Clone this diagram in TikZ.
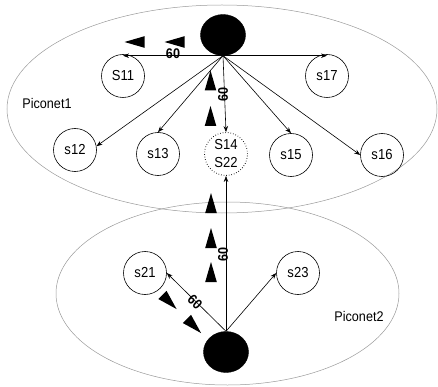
\documentclass[tikz,border=0pt]{standalone}
\usepackage{fontspec}
\setmainfont{Liberation Sans}[FakeStretch=0.9]
\usetikzlibrary{shapes.geometric,arrows.meta}

\tikzset{
  net/.style={draw=black!40, line width=0.5pt},
  master/.style={ellipse, fill=black, draw=black, minimum width=45pt, minimum height=41pt, inner sep=0pt},
  slave/.style={circle, draw=black, line width=0.6pt, minimum size=43pt, inner sep=0pt,
                font=\fontsize{14.5}{16}\selectfont},
  shared/.style={slave, dotted, line width=0.9pt, align=center,
                 font=\fontsize{14.5}{18}\selectfont},
  link/.style={draw=black, line width=0.6pt, -{Stealth[length=6pt,width=4.5pt]}},
  rate/.style={font=\fontsize{14}{15}\selectfont\bfseries, inner sep=0pt},
  netname/.style={font=\fontsize{14}{16}\selectfont, inner sep=0pt},
  flowtip/.pic={\fill[black] (10,0) -- (-10,5.8) -- (-10,-5.8) -- cycle;}
}

\begin{document}
\begin{tikzpicture}[x=1pt, y=-1pt]
\useasboundingbox (0,0) rectangle (438,387);

% the two piconet areas
\draw[net] (222,109) ellipse [x radius=215, y radius=104];
\draw[net] (227.5,293.5) ellipse [x radius=171.5, y radius=91.5];
\node[netname] (p1) at (47,103) {Piconet1};
\node[netname] (p2) at (359,316) {Piconet2};

% masters
\node[master] (m1) at (223,35) {};
\node[master] (m2) at (226,352) {};

% slaves of piconet 1
\node[slave] (s11) at (123,76) {S11};
\node[slave] (s17) at (327,76) {s17};
\node[slave] (s12) at (75,150) {s12};
\node[slave] (s13) at (158,154) {s13};
\node[shared] (s14) at (226,154) {S14\\S22};
\node[slave] (s15) at (291,155) {s15};
\node[slave] (s16) at (382,155) {s16};

% slaves of piconet 2
\node[slave] (s21) at (145,273) {s21};
\node[slave] (s23) at (298,273) {s23};

% links of master 1
\draw[link] (m1.south) -- (m1.south -| s11.north);
\draw[link] (m1.south) -- (m1.south -| s17.north);
\draw[link] (m1.south) -- (s12.10);
\draw[link] (m1.south) -- (s13.north);
\draw[link] (m1.south) -- (s14.north);
\draw[link] (m1.south) -- (s15.north);
\draw[link] (m1.south) -- (s16.west);

% links of master 2
\draw[link] (m2.north) -- (s14.south);
\draw[link] (m2.north) -- (s21.east);
\draw[link] (m2.north) -- (s23.west);

% rates
\node[rate] (r1) at (173,54) {60};
\node[rate, rotate=90] (r2) at (223,94.5) {60};
\node[rate, rotate=90] (r3) at (223,254) {60};
\node[rate, rotate=-45] (r4) at (195,302) {60};

% flow direction marks
\pic[rotate=180] at (134.5,42) {flowtip};
\pic[rotate=180] at (174.5,42) {flowtip};
\pic[rotate=90] at (210.5,80.5) {flowtip};
\pic[rotate=90] at (210.5,116) {flowtip};
\pic[rotate=90] at (211,203) {flowtip};
\pic[rotate=90] at (211,238) {flowtip};
\pic[rotate=90] at (211,272) {flowtip};
\pic[rotate=-45] at (169.5,302) {flowtip};
\pic[rotate=-45] at (194,326) {flowtip};
\end{tikzpicture}
\end{document}
